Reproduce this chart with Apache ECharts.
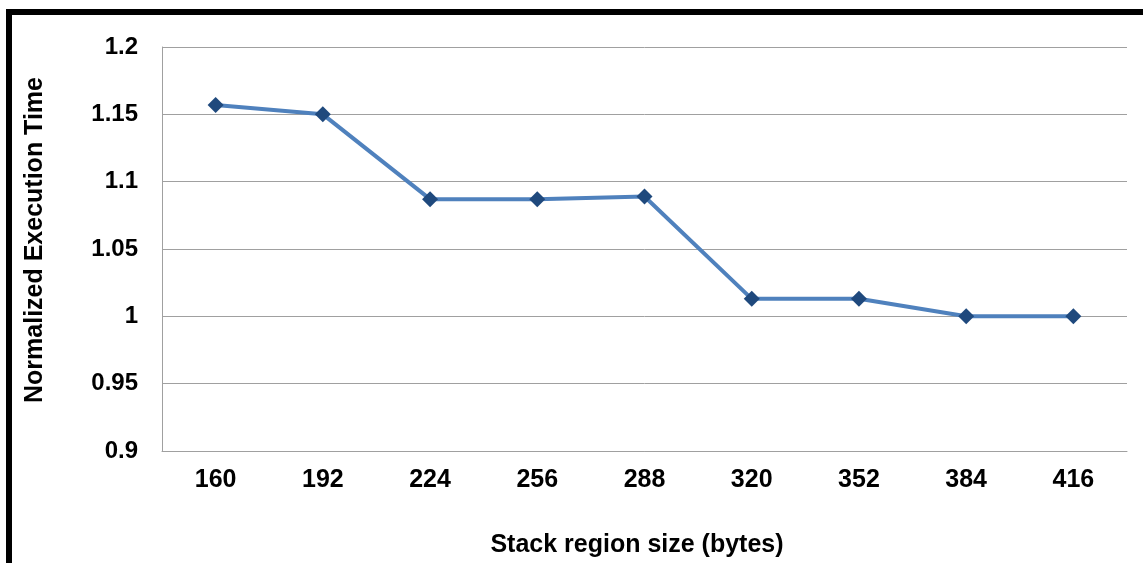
<!DOCTYPE html>
<html>
<head>
<meta charset="utf-8">
<script src="https://cdn.jsdelivr.net/npm/echarts@6/dist/echarts.min.js"></script>
<style>
html,body{margin:0;padding:0;background:#fff;}
#chart{width:1143px;height:563px;}
</style>
</head>
<body>
<div id="chart"></div>
<script>
var categories = ['160','192','224','256','288','320','352','384','416'];
var execTime = [1.157, 1.150, 1.087, 1.087, 1.089, 1.013, 1.013, 1.000, 1.000];
var yTicks = [0.9, 0.95, 1, 1.05, 1.1, 1.15, 1.2];

var chart = echarts.init(document.getElementById('chart'));
var font = '"Liberation Sans", Arial, sans-serif';
chart.setOption({
  animation: false,
  backgroundColor: '#ffffff',
  grid: {left: 162, top: 47, right: 16, bottom: 112, containLabel: false},
  graphic: [
    {type: 'rect', shape: {x: 6, y: 9, width: 1137, height: 6}, style: {fill: '#000'}},
    {type: 'rect', shape: {x: 6, y: 9, width: 6, height: 554}, style: {fill: '#000'}},
    {type: 'text', x: 637, y: 545, style: {text: 'Stack region size (bytes)', textAlign: 'center', textVerticalAlign: 'middle', font: 'bold 25px ' + font, fill: '#000'}},
    {type: 'text', x: 35, y: 240, rotation: Math.PI / 2, style: {text: 'Normalized Execution Time', textAlign: 'center', textVerticalAlign: 'middle', font: 'bold 25px ' + font, fill: '#000'}}
  ],
  xAxis: {
    type: 'category',
    data: categories,
    boundaryGap: true,
    axisLine: {show: true, lineStyle: {color: '#a0a0a0', width: 1}},
    axisTick: {show: false},
    axisLabel: {color: '#000', fontSize: 25, fontWeight: 'bold', fontFamily: font, margin: 17}
  },
  yAxis: {
    type: 'value',
    min: 0.9, max: 1.2, interval: 0.05,
    axisLine: {show: true, lineStyle: {color: '#a0a0a0', width: 1}},
    axisTick: {show: false},
    splitLine: {show: true, lineStyle: {color: '#a0a0a0', width: 1}},
    axisLabel: {
      color: '#000', fontSize: 24, fontWeight: 'bold', fontFamily: font, margin: 24,
      formatter: function (v) {
        var best = yTicks.reduce(function (a, b) { return Math.abs(b - v) < Math.abs(a - v) ? b : a; });
        return String(best);
      }
    }
  },
  series: [{
    type: 'line',
    data: execTime,
    symbol: 'diamond',
    symbolSize: 16,
    lineStyle: {color: '#4f81bd', width: 4},
    itemStyle: {color: '#1f497d'}
  }]
});
</script>
</body>
</html>
